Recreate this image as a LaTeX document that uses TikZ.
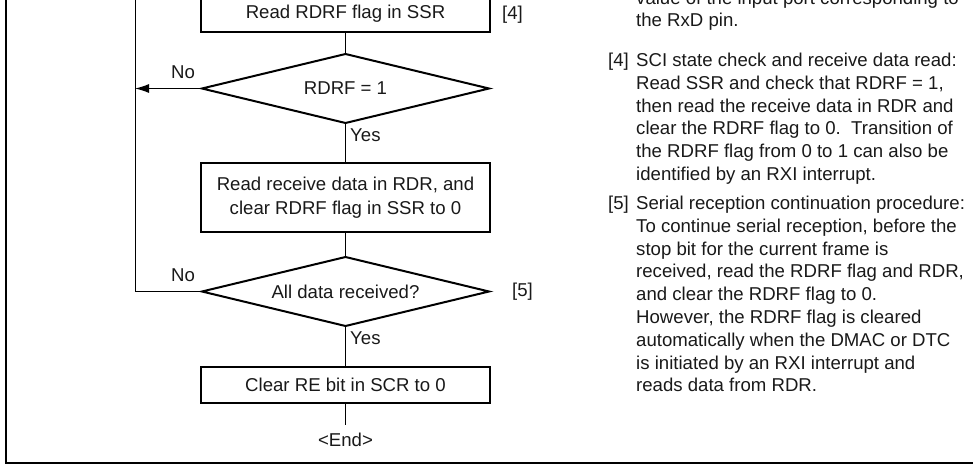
\documentclass[tikz,border=0pt]{standalone}
\usepackage{fontspec}
\setmainfont{Liberation Sans}
\usetikzlibrary{shapes.geometric,arrows.meta}
\begin{document}
\begin{tikzpicture}[x=1pt,y=-1pt,
  every node/.style={font=\fontsize{18.6}{22.8}\selectfont, text=black!90},
  procbox/.style={draw, line width=2pt, minimum width=289pt, inner sep=0pt, outer sep=0pt, align=center},
  decis/.style={draw, diamond, aspect=4.16, line width=2pt, minimum width=287pt, minimum height=69pt, inner sep=0pt, outer sep=0pt},
  conn/.style={line width=1pt},
  lbl/.style={inner sep=0pt},
  txt/.style={inner sep=0pt, anchor=base west}
]
\useasboundingbox (0,0) rectangle (973,465);
\clip (0,0) rectangle (973,465);
% frame
\draw[line width=2.2pt] (6,-10) -- (6,463) -- (985,463);
% flowchart nodes
\node[procbox, minimum height=36pt] (b1) at (345.5,14) {Read RDRF flag in SSR};
\node[decis] (d1) at (345.5,88.5) {RDRF = 1};
\node[procbox, minimum height=69pt] (b2) at (345.5,197.5) {Read receive data in RDR, and\\[1.5pt]clear RDRF flag in SSR to 0};
\node[decis] (d2) at (345.5,291.5) {All data received?};
\node[procbox, minimum height=36pt] (b3) at (345.5,385) {Clear RE bit in SCR to 0};
\node[lbl] (endn) at (345.5,440) {<End>};
\coordinate (endpt) at (345.5,425);
% connectors
\draw[conn] (b1) -- (d1);
\draw[conn] (d1) -- (b2);
\draw[conn] (b2) -- (d2);
\draw[conn] (d2) -- (b3);
\draw[conn] (b3) -- (endpt);
\coordinate (ltop) at (135,-10);
\coordinate (lhit) at (135,88.5);
\coordinate (lcorner) at (135,291.5);
\draw[conn] (ltop) -- (lcorner) -- (d2.west);
\draw[conn, -{Latex[length=14pt,width=9pt]}] (d1.west) -- (lhit);
% labels
\node[lbl] (no1) at (183,72) {No};
\node[lbl] (no2) at (183,275) {No};
\node[lbl, anchor=west] (yes1) at (350,135) {Yes};
\node[lbl, anchor=west] (yes2) at (350,338) {Yes};
\node[lbl, anchor=west] (s4) at (502,15) {[4]};
\node[lbl, anchor=west] (s5) at (512,292) {[5]};
% right text
\node[txt] (r1) at (636,4.2) {value of the input port corresponding to};
\node[txt] (r2) at (636,27) {the RxD pin.};
\node[txt] (n4) at (608,66.5) {[4]};
\node[txt] (a1) at (636,66.5) {SCI state check and receive data read:};
\node[txt] (a2) at (636,89.3) {Read SSR and check that RDRF = 1,};
\node[txt] (a3) at (636,112.1) {then read the receive data in RDR and};
\node[txt] (a4) at (636,134.9) {clear the RDRF flag to 0.\ \ Transition of};
\node[txt] (a5) at (636,157.7) {the RDRF flag from 0 to 1 can also be};
\node[txt] (a6) at (636,180.5) {identified by an RXI interrupt.};
\node[txt] (n5) at (608,209.5) {[5]};
\node[txt] (c1) at (636,209.5) {Serial reception continuation procedure:};
\node[txt] (c2) at (636,232.3) {To continue serial reception, before the};
\node[txt] (c3) at (636,255.1) {stop bit for the current frame is};
\node[txt] (c4) at (636,277.9) {received, read the RDRF flag and RDR,};
\node[txt] (c5) at (636,300.7) {and clear the RDRF flag to 0.};
\node[txt] (c6) at (636,323.5) {However, the RDRF flag is cleared};
\node[txt] (c7) at (636,346.3) {automatically when the DMAC or DTC};
\node[txt] (c8) at (636,369.1) {is initiated by an RXI interrupt and};
\node[txt] (c9) at (636,391.9) {reads data from RDR.};
\end{tikzpicture}
\end{document}
